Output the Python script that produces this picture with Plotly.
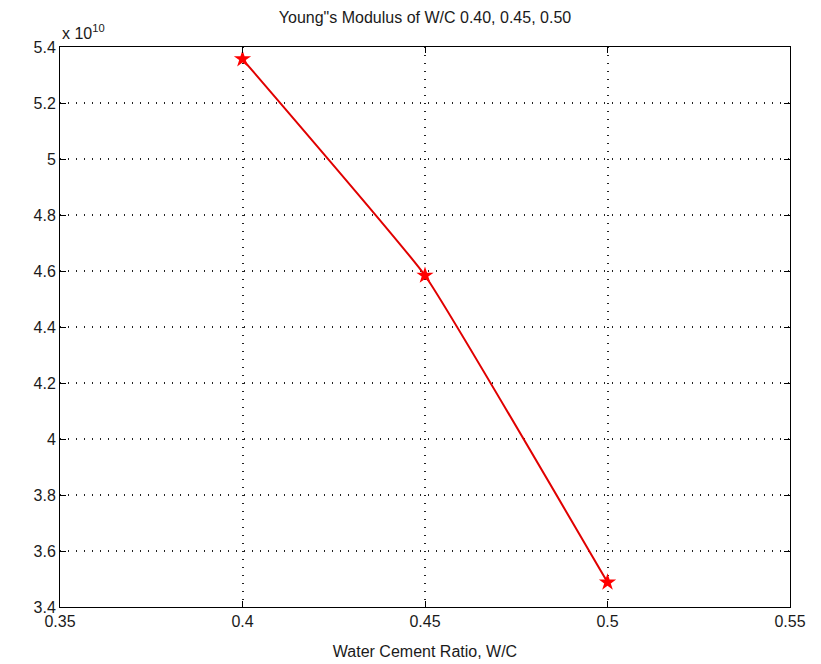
import plotly.graph_objects as go

wc_ratio = [0.40, 0.45, 0.50]
youngs_modulus = [5.357e10, 4.584e10, 3.488e10]
scale = 1e10
x_ticks = [0.35, 0.40, 0.45, 0.50, 0.55]
x_tick_labels = ["0.35", "0.4", "0.45", "0.5", "0.55"]
y_ticks = [3.4, 3.6, 3.8, 4.0, 4.2, 4.4, 4.6, 4.8, 5.0, 5.2, 5.4]
y_tick_labels = ["3.4", "3.6", "3.8", "4", "4.2", "4.4", "4.6", "4.8", "5", "5.2", "5.4"]

font = dict(family="Liberation Sans, Arial, sans-serif", size=16, color="#1a1a1a")

fig = go.Figure()
fig.add_trace(go.Scatter(
    x=wc_ratio,
    y=[v / scale for v in youngs_modulus],
    mode="lines+markers",
    line=dict(color="#e00000", width=2, shape="spline", smoothing=0.3),
    marker=dict(symbol="star", size=13, color="#ff0000"),
    showlegend=False,
))

axis_common = dict(
    showline=True, linecolor="black", linewidth=1, mirror="ticks",
    ticks="inside", ticklen=6, tickcolor="black",
    showgrid=True, gridcolor="#222222", griddash="1px,7px", gridwidth=1.5,
    zeroline=False, tickfont=font, automargin=False,
)

fig.update_layout(
    width=813, height=656,
    margin=dict(l=52, r=31, t=39, b=57),
    paper_bgcolor="white", plot_bgcolor="white",
    font=font,
    title=dict(text="Young\"s Modulus of W/C 0.40, 0.45, 0.50", x=(425 - 8) / 813, xanchor="center",
               y=1 - 9 / 656, yanchor="middle", font=font),
    xaxis=dict(range=[0.35, 0.55], tickvals=x_ticks, ticktext=x_tick_labels,
               title=dict(text="Water Cement Ratio, W/C", font=font, standoff=16), **axis_common),
    yaxis=dict(range=[3.4, 5.4], tickvals=y_ticks, ticktext=y_tick_labels, **axis_common),
    annotations=[dict(text="x 10<sup>10</sup>", xref="paper", yref="paper", x=0.0, y=1.0,
                      xanchor="left", yanchor="bottom", yshift=3, showarrow=False, font=font)],
)

fig.write_html("out.html")
